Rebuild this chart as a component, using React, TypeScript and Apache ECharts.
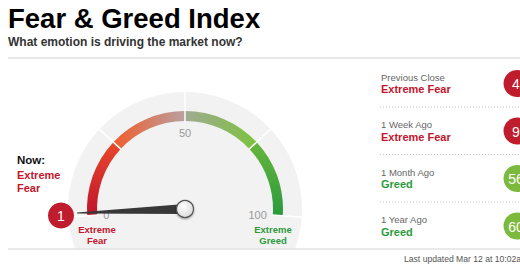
import React, { useEffect, useRef } from 'react';
import * as echarts from 'echarts';

// ---- data ----
const titleText = 'Fear & Greed Index';
const subtitleText = 'What emotion is driving the market now?';
const currentValue = 1;
const currentRatingLines = ['Extreme', 'Fear'];
const gaugeMin = 0;
const gaugeMax = 100;
const segmentBounds = [0, 25, 50, 75, 100];
const endLabelsLeft = ['Extreme', 'Fear'];
const endLabelsRight = ['Extreme', 'Greed'];
const historyLabels = ['Previous Close', '1 Week Ago', '1 Month Ago', '1 Year Ago'];
const historyRatings = ['Extreme Fear', 'Extreme Fear', 'Greed', 'Greed'];
const historyValues = [4, 9, 56, 60];
const lastUpdated = 'Last updated Mar 12 at 10:02am';

// ---- style ----
const FONT = '"Liberation Sans", Arial, Helvetica, sans-serif';
const RED = '#c3152c';
const GREEN_TEXT = '#2b9a3a';
const CIRCLE_RED = '#bf1c2d';
const CIRCLE_GREEN = '#7cb93c';
const CX = 185;
const CY = 209;
const START = 184;
const END = -4;

const angleOf = (v: number) => START - ((v - gaugeMin) / (gaugeMax - gaugeMin)) * (START - END);

const ratingColor = (r: string) => (r.indexOf('Fear') >= 0 ? RED : GREEN_TEXT);
const circleColor = (r: string) => (r.indexOf('Fear') >= 0 ? CIRCLE_RED : CIRCLE_GREEN);

const segmentGradients = () => [
  new echarts.graphic.LinearGradient(0, 1, 0, 0, [
    { offset: 0, color: '#c0142b' },
    { offset: 1, color: '#e8482b' },
  ]),
  new echarts.graphic.LinearGradient(0, 0, 1, 0, [
    { offset: 0, color: '#f25c2a' },
    { offset: 1, color: '#b8a1a1' },
  ]),
  new echarts.graphic.LinearGradient(0, 0, 1, 0, [
    { offset: 0, color: '#a0aa92' },
    { offset: 1, color: '#7dc23e' },
  ]),
  new echarts.graphic.LinearGradient(0, 0, 0, 1, [
    { offset: 0, color: '#66b63c' },
    { offset: 1, color: '#2a9a3e' },
  ]),
];

const txt = (
  text: string,
  x: number,
  y: number,
  font: string,
  fill: string,
  align: string = 'left'
) => ({
  type: 'text',
  x,
  y,
  z: 10,
  silent: true,
  style: { text, font, fill, align, verticalAlign: 'middle', textAlign: align, textVerticalAlign: 'middle' },
});

export default function App() {
  const ref = useRef<HTMLDivElement>(null);

  useEffect(() => {
    if (!ref.current) return;
    const chart = echarts.init(ref.current, undefined, { renderer: 'svg' });
    const grads = segmentGradients();

    const segmentSeries = segmentBounds.slice(0, -1).map((b, i) => ({
      type: 'gauge',
      center: [CX, CY],
      radius: 98,
      startAngle: angleOf(b),
      endAngle: angleOf(segmentBounds[i + 1]),
      min: 0,
      max: 1,
      splitNumber: 1,
      silent: true,
      z: 2,
      axisLine: { show: true, lineStyle: { width: 10, color: [[1, grads[i]]] } },
      splitLine: { show: false },
      axisTick: { show: false },
      axisLabel: { show: false },
      pointer: { show: false },
      anchor: { show: false },
      title: { show: false },
      detail: { show: false },
      data: [{ value: 0 }],
    }));

    const splitSeries = {
      type: 'gauge',
      center: [CX, CY],
      radius: 118,
      startAngle: START,
      endAngle: END,
      min: gaugeMin,
      max: gaugeMax,
      splitNumber: segmentBounds.length - 1,
      silent: true,
      z: 3,
      axisLine: { show: false, lineStyle: { width: 0 } },
      splitLine: { show: true, length: 31, distance: 0, lineStyle: { color: '#ffffff', width: 1.5 } },
      axisTick: { show: false },
      axisLabel: { show: false },
      pointer: { show: false },
      anchor: { show: false },
      title: { show: false },
      detail: { show: false },
      data: [{ value: 0 }],
    };

    const mainSeries = {
      type: 'gauge',
      center: [CX, CY],
      radius: 98,
      startAngle: START,
      endAngle: END,
      min: gaugeMin,
      max: gaugeMax,
      splitNumber: 2,
      silent: true,
      z: 4,
      axisLine: { show: false, lineStyle: { width: 0 } },
      splitLine: { show: false, distance: 0 },
      axisTick: { show: false },
      axisLabel: { show: true, distance: 6, color: '#999999', fontSize: 11, fontFamily: FONT },
      pointer: {
        show: true,
        icon: 'path://M4 0 L5 0 L9.5 100 L-0.5 100 Z',
        length: 108,
        width: 10,
        offsetCenter: [0, 0],
        itemStyle: { color: '#383838' },
      },
      anchor: {
        show: true,
        showAbove: true,
        size: 17,
        icon: 'circle',
        itemStyle: {
          color: new echarts.graphic.RadialGradient(0.4, 0.35, 0.75, [
            { offset: 0, color: '#ffffff' },
            { offset: 1, color: '#d6d6d6' },
          ]),
          borderColor: '#555555',
          borderWidth: 1.2,
          shadowBlur: 2,
          shadowColor: 'rgba(0,0,0,0.35)',
          shadowOffsetY: 1,
        },
      },
      title: { show: false },
      detail: { show: false },
      data: [{ value: currentValue }],
    };

    const elements: any[] = [
      { type: 'circle', z: 0, silent: true, shape: { cx: CX, cy: CY, r: 117 }, style: { fill: '#f2f2f2' } },
      { type: 'rect', z: 1, silent: true, shape: { x: 0, y: 249.5, width: 520, height: 30 }, style: { fill: '#ffffff' } },
      { type: 'line', z: 5, silent: true, shape: { x1: 8, y1: 58, x2: 520, y2: 58 }, style: { stroke: '#e8e8e8', lineWidth: 2 } },
      { type: 'line', z: 5, silent: true, shape: { x1: 8, y1: 249, x2: 520, y2: 249 }, style: { stroke: '#e2e2e2', lineWidth: 1.5 } },
      txt(titleText, 8, 18, `bold 27.5px ${FONT}`, '#000000'),
      txt(subtitleText, 8, 42, `bold 12px ${FONT}`, '#333333'),
      txt('Now:', 17, 160, `bold 11.5px ${FONT}`, '#111111'),
      ...currentRatingLines.map((s, i) => txt(s, 17, 175 + i * 13, `bold 11px ${FONT}`, RED)),
      { type: 'circle', z: 6, silent: true, shape: { cx: 61, cy: 215.5, r: 13 }, style: { fill: CIRCLE_RED } },
      txt(String(currentValue), 61, 216, `14px ${FONT}`, '#ffffff', 'center'),
      ...endLabelsLeft.map((s, i) => txt(s, 97, 229 + i * 11, `bold 9.5px ${FONT}`, RED, 'center')),
      ...endLabelsRight.map((s, i) => txt(s, 273, 229 + i * 11, `bold 9.5px ${FONT}`, GREEN_TEXT, 'center')),
      txt(lastUpdated, 404, 259, `8.6px ${FONT}`, '#555555'),
    ];

    historyLabels.forEach((label, i) => {
      const y0 = 77 + i * 47.5;
      elements.push(txt(label, 381, y0, `9.5px ${FONT}`, '#666666'));
      elements.push(txt(historyRatings[i], 381, y0 + 12, `bold 11px ${FONT}`, ratingColor(historyRatings[i])));
      elements.push({
        type: 'circle',
        z: 6,
        silent: true,
        shape: { cx: 517, cy: y0 + 6.5, r: 13.5 },
        style: { fill: circleColor(historyRatings[i]) },
      });
      elements.push(txt(String(historyValues[i]), 516, y0 + 7, `14px ${FONT}`, '#ffffff', 'center'));
      if (i < historyLabels.length - 1) {
        elements.push({
          type: 'line',
          z: 5,
          silent: true,
          shape: { x1: 380, y1: y0 + 30, x2: 520, y2: y0 + 30 },
          style: { stroke: '#c8c8c8', lineWidth: 1, lineDash: [1, 2] },
        });
      }
    });

    chart.setOption({
      animation: false,
      backgroundColor: '#ffffff',
      graphic: { elements },
      series: [...segmentSeries, splitSeries, mainSeries],
    });

    return () => chart.dispose();
  }, []);

  return (
    <div
      ref={ref}
      style={{ position: 'fixed', left: 0, top: 0, width: 520, height: 272, background: '#fff' }}
    />
  );
}
